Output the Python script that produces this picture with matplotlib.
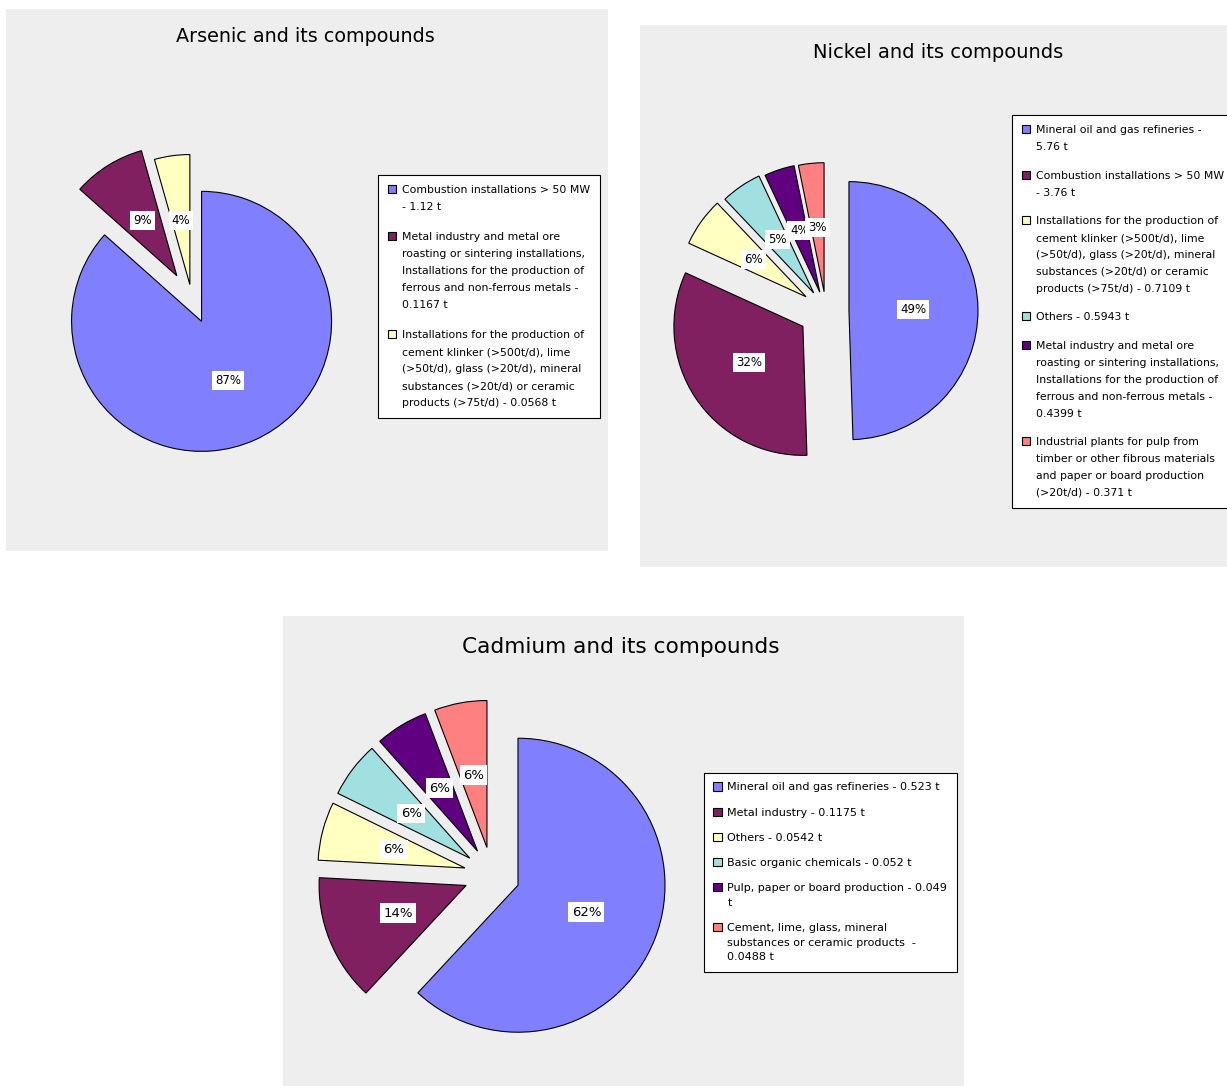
import matplotlib.pyplot as plt
from matplotlib.patches import Rectangle

W, H = 1227, 1086

slice_colors = ['#8080ff', '#802060', '#ffffc0', '#a0e0e0', '#600080', '#ff8080']

# Arsenic and its compounds (t)
arsenic_values = [1.12, 0.1167, 0.0568]
arsenic_pct = ['87%', '9%', '4%']
arsenic_names = [
    'Combustion installations > 50 MW\n- {} t',
    'Metal industry and metal ore\nroasting or sintering installations,\n'
    'Installations for the production of\nferrous and non-ferrous metals -\n{} t',
    'Installations for the production of\ncement klinker (>500t/d), lime\n'
    '(>50t/d), glass (>20t/d), mineral\nsubstances (>20t/d) or ceramic\n'
    'products (>75t/d) - {} t',
]

# Nickel and its compounds (t)
nickel_values = [5.76, 3.76, 0.7109, 0.5943, 0.4399, 0.371]
nickel_pct = ['49%', '32%', '6%', '5%', '4%', '3%']
nickel_names = [
    'Mineral oil and gas refineries -\n{} t',
    'Combustion installations > 50 MW\n- {} t',
    'Installations for the production of\ncement klinker (>500t/d), lime\n'
    '(>50t/d), glass (>20t/d), mineral\nsubstances (>20t/d) or ceramic\n'
    'products (>75t/d) - {} t',
    'Others - {} t',
    'Metal industry and metal ore\nroasting or sintering installations,\n'
    'Installations for the production of\nferrous and non-ferrous metals -\n{} t',
    'Industrial plants for pulp from\ntimber or other fibrous materials\n'
    'and paper or board production\n(>20t/d) - {} t',
]

# Cadmium and its compounds (t)
cadmium_values = [0.523, 0.1175, 0.0542, 0.052, 0.049, 0.0488]
cadmium_pct = ['62%', '14%', '6%', '6%', '6%', '6%']
cadmium_names = [
    'Mineral oil and gas refineries - {} t',
    'Metal industry - {} t',
    'Others - {} t',
    'Basic organic chemicals - {} t',
    'Pulp, paper or board production - {}\nt',
    'Cement, lime, glass, mineral\nsubstances or ceramic products  -\n{} t',
]

fig = plt.figure(figsize=(W / 100, H / 100), dpi=100)
fig.patch.set_facecolor('white')


def panel(x0, y0, x1, y1, title, tx, ty, tsize):
    fig.add_artist(Rectangle((x0 / W, 1 - y1 / H), (x1 - x0) / W, (y1 - y0) / H,
                             transform=fig.transFigure, facecolor='#eeeeee',
                             edgecolor='none', zorder=-1))
    fig.text(tx / W, 1 - ty / H, title, ha='center', va='center',
             fontsize=tsize, color='black')


def draw_pie(cx, cy, r, values, pct, explode, fontsize):
    half = 1.6 * r
    ax = fig.add_axes([(cx - half) / W, 1 - (cy + half) / H, 2 * half / W, 2 * half / H])
    wedges, texts = ax.pie(values, explode=explode, labels=pct, labeldistance=0.5,
                           startangle=90, counterclock=False,
                           colors=slice_colors[:len(values)],
                           wedgeprops=dict(edgecolor='black', linewidth=0.8),
                           textprops=dict(fontsize=fontsize))
    for t in texts:
        t.set_ha('center')
        t.set_va('center')
        t.set_bbox(dict(boxstyle='square,pad=0.25', facecolor='white', edgecolor='none'))
    ax.set_xlim(-1.6, 1.6)
    ax.set_ylim(-1.6, 1.6)
    ax.set_axis_off()
    return wedges


def draw_legend(wedges, names, values, x, y, size, spacing, linespacing, pad):
    labels = [n.format(v) for n, v in zip(names, values)]
    leg = fig.legend(wedges, labels, loc='upper left',
                     bbox_to_anchor=(x / W, 1 - y / H), borderaxespad=0,
                     frameon=True, fancybox=False, framealpha=1, edgecolor='black',
                     prop=dict(family='DejaVu Sans', size=size),
                     handlelength=0.75, handleheight=0.75, handletextpad=0.5,
                     labelspacing=spacing, borderpad=pad)
    leg.get_frame().set_linewidth(0.8)
    for t in leg.get_texts():
        t.set_linespacing(linespacing)
    # put the colour square next to the first line of each entry
    for column in leg._legend_handle_box.get_children():
        for row in column.get_children():
            row.align = 'top'
    return leg


# Arsenic
panel(6, 9, 608, 551, 'Arsenic and its compounds', 305, 36, 13.8)
w = draw_pie(192, 300, 130, arsenic_values, arsenic_pct, [0.18, 0.22, 0.12], 8.5)
draw_legend(w, arsenic_names, arsenic_values, 378, 175, 7.8, 1.85, 1.87, 0.95)

# Nickel
panel(640, 25, 1240, 567, 'Nickel and its compounds', 938, 52, 14)
w = draw_pie(826, 311, 129, nickel_values, nickel_pct,
             [0.178, 0.215, 0.19, 0.17, 0.154, 0.15], 8.5)
draw_legend(w, nickel_names, nickel_values, 1012, 115, 7.8, 1.7, 1.87, 0.95)

# Cadmium
panel(283, 616, 964, 1090, 'Cadmium and its compounds', 621, 647, 15.6)
w = draw_pie(492, 875, 147, cadmium_values, cadmium_pct, [0.19] * 6, 9.5)
draw_legend(w, cadmium_names, cadmium_values, 704, 773, 8.0, 1.37, 1.58, 0.85)

fig.savefig('out.png', dpi=100)
